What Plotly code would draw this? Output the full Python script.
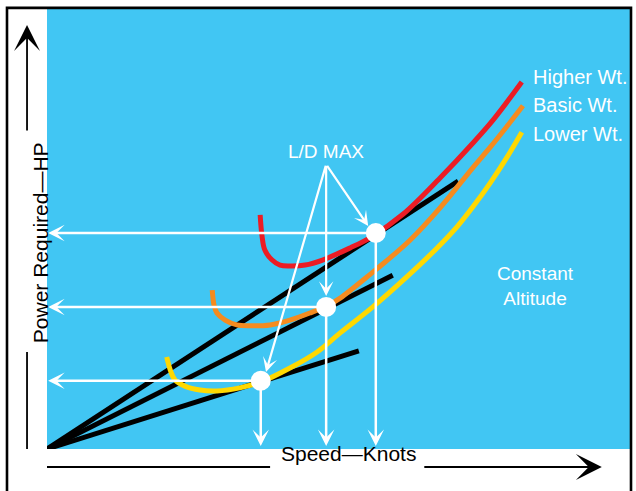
import plotly.graph_objects as go

# ---- data (arbitrary units: speed 0-100, power 0-100) ----
red_speed = [36.5, 36.8, 37.3, 38.5, 39.9, 41.6, 44.2, 47.3, 51.9, 55.3, 61.0, 67.3, 72.9, 76.4, 81.3]
red_power = [53.2, 48.6, 45.2, 43.0, 41.8, 41.6, 41.8, 43.0, 45.7, 48.0, 53.4, 61.6, 69.5, 74.8, 83.4]

orange_speed = [28.3, 28.6, 29.1, 30.5, 32.5, 34.8, 38.2, 41.6, 45.0, 47.9, 50.2, 55.8, 57.9, 62.2, 67.3, 72.9, 75.9, 78.8, 81.5]
orange_power = [36.1, 32.7, 30.9, 29.3, 28.2, 28.0, 28.2, 29.3, 30.9, 32.5, 34.3, 40.2, 42.5, 47.5, 54.8, 63.9, 68.6, 73.4, 78.0]

yellow_speed = [20.5, 21.1, 21.9, 23.6, 26.2, 29.1, 33.0, 36.6, 41.6, 46.2, 50.2, 55.8, 61.6, 66.8, 70.2, 72.9, 75.9, 78.8, 81.3]
yellow_power = [20.9, 18.0, 15.7, 14.3, 13.4, 13.2, 13.9, 15.2, 18.4, 22.0, 26.4, 32.3, 39.1, 45.7, 50.5, 55.0, 60.5, 66.4, 72.0]

tangent_end_speed = [70.4, 59.2, 53.4]
tangent_end_power = [60.9, 39.5, 22.3]

ldmax_speed = [56.3, 47.8, 36.6]
ldmax_power = [49.1, 32.3, 15.5]

curve_labels = ["Higher Wt.", "Basic Wt.", "Lower Wt."]
curve_label_power = [84.5, 78.1, 71.6]
curve_label_speed = 82.8

ld_label_pos = (47.8, 67.7)
ld_arrow_tips_speed = [55.0, 47.8, 37.5]
ld_arrow_tips_power = [50.7, 34.8, 17.5]

BLUE = "#41C6F3"
RED = "#EC1C24"
ORANGE = "#F58B1F"
YELLOW = "#FFD800"
FONT = "Liberation Sans, Arial, sans-serif"

fig = go.Figure()

# tangent lines from origin
for xs, ys in zip(tangent_end_speed, tangent_end_power):
    fig.add_trace(go.Scatter(x=[0, xs], y=[0, ys], mode="lines",
                             line=dict(color="black", width=5), hoverinfo="skip"))

# power-required curves
for xs, ys, col in [(red_speed, red_power, RED),
                    (orange_speed, orange_power, ORANGE),
                    (yellow_speed, yellow_power, YELLOW)]:
    fig.add_trace(go.Scatter(x=xs, y=ys, mode="lines",
                             line=dict(color=col, width=5, shape="spline", smoothing=1.0),
                             hoverinfo="skip"))

# L/D max points
fig.add_trace(go.Scatter(x=ldmax_speed, y=ldmax_power, mode="markers",
                         marker=dict(color="white", size=20), hoverinfo="skip"))

annotations = []
# white arrows to axes
for xs, ys in zip(ldmax_speed, ldmax_power):
    annotations.append(dict(x=0.2, y=ys, ax=xs, ay=ys, xref="x", yref="y", axref="x", ayref="y",
                            showarrow=True, arrowhead=3, arrowsize=1.1, arrowwidth=2.5,
                            arrowcolor="white", text=""))
    annotations.append(dict(x=xs, y=0.7, ax=xs, ay=ys, xref="x", yref="y", axref="x", ayref="y",
                            showarrow=True, arrowhead=3, arrowsize=1.1, arrowwidth=2.5,
                            arrowcolor="white", text=""))

# L/D MAX pointer arrows
for tx, ty in zip(ld_arrow_tips_speed, ld_arrow_tips_power):
    annotations.append(dict(x=tx, y=ty, ax=ld_label_pos[0], ay=ld_label_pos[1] - 3.0,
                            xref="x", yref="y", axref="x", ayref="y",
                            showarrow=True, arrowhead=3, arrowsize=1.1, arrowwidth=2.2,
                            arrowcolor="white", text=""))

annotations.append(dict(x=ld_label_pos[0], y=ld_label_pos[1], xref="x", yref="y",
                        text="L/D MAX", showarrow=False,
                        font=dict(family=FONT, size=19, color="white")))

for lab, yp in zip(curve_labels, curve_label_power):
    annotations.append(dict(x=curve_label_speed, y=yp, xref="x", yref="y", text=lab,
                            showarrow=False, xanchor="left", yanchor="middle",
                            font=dict(family=FONT, size=20, color="white")))

annotations.append(dict(x=83.6, y=37.0, xref="x", yref="y", text="Constant<br>Altitude",
                        showarrow=False, align="center",
                        font=dict(family=FONT, size=19, color="white")))

# axis titles with arrows (paper coords)
annotations.append(dict(x=0.516, y=-0.0409, xref="paper", yref="paper", text="Speed—Knots",
                        showarrow=False, font=dict(family=FONT, size=21, color="black")))
annotations.append(dict(x=0.950, y=-0.0409, xref="paper", yref="paper", ax=-179, ay=0,
                        showarrow=True, arrowhead=3, arrowsize=2.4, arrowwidth=1.8,
                        arrowcolor="black", text=""))
annotations.append(dict(x=-0.0342, y=0.469, xref="paper", yref="paper", text="Power Required—HP",
                        textangle=-90, showarrow=False,
                        font=dict(family=FONT, size=21, color="black")))
annotations.append(dict(x=-0.0342, y=0.9636, xref="paper", yref="paper", ax=0, ay=107,
                        showarrow=True, arrowhead=3, arrowsize=2.4, arrowwidth=1.8,
                        arrowcolor="black", text=""))

shapes = [
    dict(type="line", xref="paper", yref="paper", x0=0, x1=0.382, y0=-0.0409, y1=-0.0409,
         line=dict(color="black", width=1.8)),
    dict(type="line", xref="paper", yref="paper", x0=-0.0342, x1=-0.0342, y0=0, y1=0.2205,
         line=dict(color="black", width=1.8)),
    dict(type="rect", xref="paper", yref="paper", x0=-0.0685, x1=1.0, y0=-0.3, y1=1.0025,
         line=dict(color="black", width=2.6), fillcolor="rgba(0,0,0,0)", layer="above"),
]

fig.update_layout(
    width=636, height=491,
    margin=dict(l=47, r=5, t=9, b=42, autoexpand=False),
    paper_bgcolor="white", plot_bgcolor=BLUE,
    showlegend=False,
    xaxis=dict(range=[0, 100], visible=False, fixedrange=True),
    yaxis=dict(range=[0, 100], visible=False, fixedrange=True),
    annotations=annotations, shapes=shapes,
)

fig.write_html("out.html", config={"displayModeBar": False},
               post_script="document.body.style.margin='0';document.body.style.overflow='hidden';")
